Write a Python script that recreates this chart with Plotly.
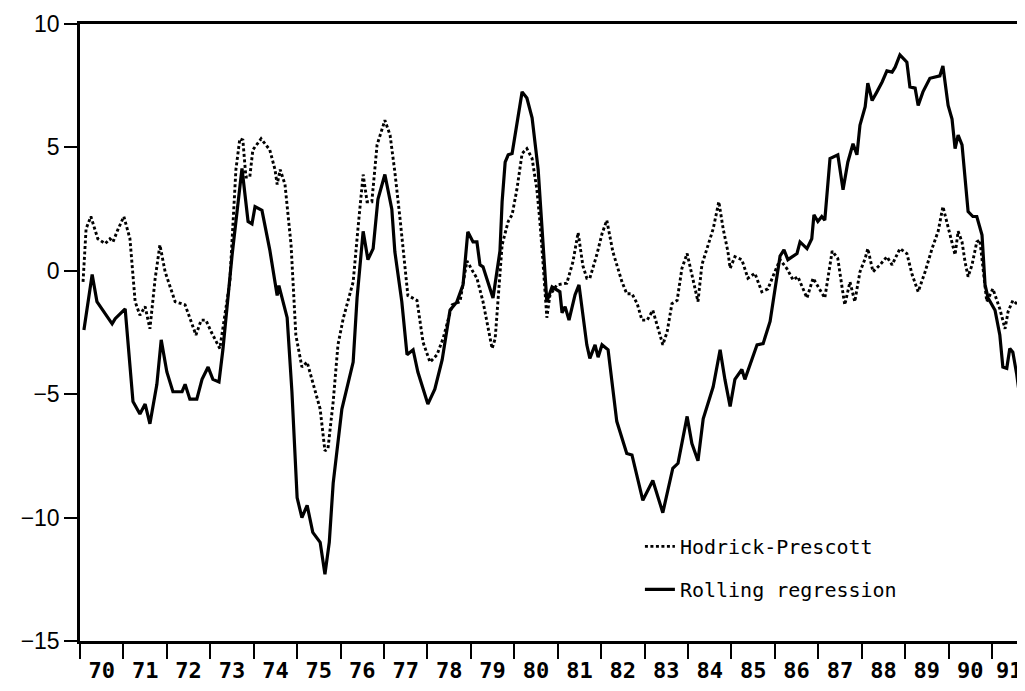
import plotly.graph_objects as go

# Rolling regression (solid)
rr_t = [1970.09,1970.28,1970.39,1970.62,1970.74,1970.81,1971.04,1971.22,1971.38,1971.50,1971.61,1971.77,1971.87,
        1972.00,1972.14,1972.35,1972.42,1972.53,1972.69,1972.81,1972.95,1973.06,1973.20,1973.29,1973.50,1973.73,
        1973.87,1973.96,1974.03,1974.19,1974.31,1974.37,1974.54,1974.58,1974.77,1974.88,1975.00,1975.11,1975.23,
        1975.36,1975.53,1975.64,1975.74,1975.83,1976.03,1976.29,1976.38,1976.52,1976.63,1976.75,1976.86,1977.02,
        1977.18,1977.25,1977.41,1977.53,1977.67,1977.78,1978.01,1978.17,1978.34,1978.52,1978.68,1978.82,1978.93,
        1979.05,1979.14,1979.21,1979.28,1979.51,1979.67,1979.72,1979.79,1979.86,1979.95,1980.06,1980.18,1980.29,
        1980.41,1980.55,1980.66,1980.75,1980.87,1981.05,1981.10,1981.17,1981.26,1981.40,1981.49,1981.67,1981.74,
        1981.86,1981.93,1982.02,1982.16,1982.36,1982.59,1982.71,1982.96,1983.19,1983.42,1983.65,1983.77,1983.98,
        1984.09,1984.23,1984.35,1984.58,1984.74,1984.85,1984.97,1985.08,1985.24,1985.31,1985.59,1985.73,1985.89,
        1986.00,1986.12,1986.21,1986.30,1986.51,1986.58,1986.74,1986.85,1986.90,1986.99,1987.08,1987.15,1987.27,
        1987.45,1987.57,1987.68,1987.80,1987.89,1987.96,1988.08,1988.14,1988.24,1988.35,1988.47,1988.58,1988.70,
        1988.77,1988.88,1989.04,1989.11,1989.23,1989.30,1989.41,1989.57,1989.80,1989.87,1989.99,1990.08,1990.15,
        1990.22,1990.31,1990.45,1990.56,1990.65,1990.77,1990.84,1990.91,1991.07,1991.18,1991.25,1991.34,1991.41,
        1991.48,1991.57,1991.69,1991.76]
rr_v = [-2.4,-0.15,-1.25,-1.86,-2.15,-1.94,-1.54,-5.3,-5.8,-5.4,-6.2,-4.6,-2.8,
        -4.1,-4.9,-4.9,-4.6,-5.2,-5.2,-4.4,-3.9,-4.4,-4.5,-3.2,0.6,4.15,
        2.0,1.9,2.6,2.45,1.45,0.85,-1.0,-0.6,-1.9,-4.9,-9.2,-10.0,-9.5,
        -10.6,-11.0,-12.3,-11.0,-8.6,-5.6,-3.7,-1.1,1.6,0.45,0.9,2.9,3.9,
        2.5,0.77,-1.25,-3.4,-3.2,-4.1,-5.4,-4.8,-3.6,-1.6,-1.25,-0.57,1.58,
        1.17,1.17,0.24,0.16,-1.1,0.8,2.8,4.4,4.7,4.75,5.9,7.25,7.0,
        6.2,4.1,1.2,-1.25,-0.65,-0.85,-1.7,-1.45,-2.0,-0.97,-0.57,-3.0,-3.55,
        -3.0,-3.5,-3.0,-3.2,-6.1,-7.4,-7.46,-9.3,-8.5,-9.8,-8.0,-7.8,-5.9,
        -7.0,-7.7,-6.0,-4.7,-3.2,-4.4,-5.5,-4.4,-4.0,-4.4,-3.0,-2.95,-2.05,
        -0.75,0.6,0.85,0.45,0.7,1.17,0.9,1.3,2.27,2.0,2.2,2.05,4.55,
        4.7,3.28,4.4,5.15,4.7,5.9,6.65,7.6,6.9,7.25,7.65,8.1,8.05,
        8.25,8.75,8.45,7.45,7.4,6.7,7.25,7.8,7.9,8.3,6.7,6.15,4.95,
        5.5,5.1,2.4,2.2,2.2,1.45,-0.57,-1.1,-1.6,-2.6,-3.9,-3.95,-3.15,
        -3.3,-4.2,-5.8,-5.7]

# Hodrick-Prescott (dotted)
hp_t = [1970.07,1970.14,1970.25,1970.41,1970.58,1970.69,1970.76,1970.87,1971.01,1971.15,1971.27,1971.38,1971.50,
        1971.61,1971.73,1971.84,1971.96,1972.19,1972.42,1972.53,1972.67,1972.79,1972.90,1973.02,1973.22,1973.45,
        1973.59,1973.68,1973.75,1973.82,1973.91,1973.98,1974.17,1974.37,1974.49,1974.54,1974.61,1974.72,1974.86,
        1974.97,1975.11,1975.23,1975.36,1975.53,1975.64,1975.71,1975.83,1975.94,1976.06,1976.17,1976.29,1976.40,
        1976.52,1976.61,1976.72,1976.84,1977.02,1977.14,1977.25,1977.37,1977.48,1977.55,1977.76,1977.90,1978.06,
        1978.22,1978.36,1978.57,1978.75,1978.91,1979.05,1979.14,1979.28,1979.49,1979.56,1979.67,1979.72,1979.86,
        1979.95,1980.06,1980.18,1980.29,1980.41,1980.52,1980.59,1980.66,1980.75,1980.82,1980.98,1981.21,1981.35,
        1981.47,1981.58,1981.67,1981.74,1981.90,1982.02,1982.13,1982.27,1982.48,1982.59,1982.71,1982.83,1982.94,
        1983.06,1983.19,1983.31,1983.42,1983.52,1983.63,1983.75,1983.86,1983.98,1984.09,1984.23,1984.32,1984.46,
        1984.58,1984.71,1984.81,1984.92,1984.97,1985.08,1985.24,1985.38,1985.54,1985.70,1985.84,1986.00,1986.12,
        1986.28,1986.42,1986.53,1986.74,1986.88,1987.04,1987.15,1987.32,1987.45,1987.55,1987.61,1987.73,1987.84,
        1987.96,1988.08,1988.14,1988.26,1988.42,1988.58,1988.70,1988.88,1989.04,1989.16,1989.30,1989.46,1989.62,
        1989.76,1989.87,1989.96,1990.03,1990.15,1990.22,1990.31,1990.38,1990.45,1990.54,1990.65,1990.72,1990.88,
        1991.02,1991.18,1991.30,1991.37,1991.48,1991.60,1991.69,1991.76]
hp_v = [-0.45,1.7,2.2,1.3,1.1,1.3,1.17,1.66,2.2,1.3,-1.25,-1.8,-1.45,
        -2.35,-0.32,1.05,-0.04,-1.25,-1.38,-1.94,-2.6,-2.0,-2.0,-2.47,-3.15,-0.45,
        4.1,5.35,5.3,3.8,3.8,4.9,5.35,4.9,4.1,3.5,4.1,3.5,1.05,
        -2.6,-3.9,-3.7,-4.5,-5.6,-7.3,-7.2,-5.3,-3.0,-1.94,-1.2,-0.45,1.7,
        3.9,2.8,2.8,5.1,6.1,5.5,4.0,2.1,0.24,-1.0,-1.2,-2.9,-3.7,
        -3.4,-2.75,-1.38,-1.25,0.4,-0.04,-0.3,-1.25,-3.15,-2.75,-0.04,1.05,2.0,
        2.27,3.3,4.75,4.95,4.55,3.3,2.0,0.36,-1.9,-1.0,-0.57,-0.5,0.36,
        1.55,0.2,-0.3,-0.3,0.65,1.5,2.05,0.77,-0.45,-0.93,-0.93,-1.33,-2.0,
        -2.0,-1.6,-2.35,-3.0,-2.47,-1.33,-1.2,0.1,0.7,-0.15,-1.25,0.24,1.05,
        1.7,2.8,1.7,0.77,0.1,0.57,0.45,-0.3,-0.1,-0.85,-0.73,-0.04,0.45,
        0.08,-0.37,-0.24,-1.1,-0.3,-0.77,-1.1,0.8,0.5,-0.7,-1.38,-0.45,-1.25,
        -0.04,0.5,0.9,-0.04,0.24,0.57,0.24,0.9,0.7,-0.15,-0.85,-0.04,0.9,
        1.6,2.6,2.0,1.45,0.65,1.6,1.17,0.36,-0.24,0.24,1.17,1.25,-1.25,
        -0.73,-1.54,-2.35,-1.66,-1.2,-1.38,-1.0,-0.04]

year_labels = ["70","71","72","73","74","75","76","77","78","79","80",
               "81","82","83","84","85","86","87","88","89","90","91"]
# labels sit mid-year; the last one is nudged left so it stays inside the page
year_label_pos = [1970.5, 1971.5, 1972.5, 1973.5, 1974.5, 1975.5, 1976.5, 1977.5, 1978.5, 1979.5, 1980.5,
                  1981.5, 1982.5, 1983.5, 1984.5, 1985.5, 1986.5, 1987.5, 1988.5, 1989.5, 1990.5, 1991.4]
y_ticks = [10, 5, 0, -5, -10, -15]

fig = go.Figure()
fig.add_trace(go.Scatter(x=hp_t, y=hp_v, mode="lines", name="Hodrick-Prescott",
                         line=dict(color="black", width=2.9, dash="3px,2.5px"),
                         legendgroup="a"))
fig.add_trace(go.Scatter(x=rr_t, y=rr_v, mode="lines", name="Rolling regression",
                         line=dict(color="black", width=3.2),
                         legendgroup="b"))

# page body adds an 8px offset; size the figure so the plot area lands where the reference has it
fig.update_layout(
    width=1017, height=683,
    margin=dict(l=72, r=0, t=16, b=50),
    paper_bgcolor="white", plot_bgcolor="white",
    showlegend=True,
    legend=dict(x=0.5925, y=0.185, xanchor="left", yanchor="top",
                font=dict(family="DejaVu Sans Mono", size=20, color="black"),
                bgcolor="rgba(0,0,0,0)", tracegroupgap=14, traceorder="grouped"),
    xaxis=dict(range=[1970, 1991.76], tickmode="array", tickvals=year_label_pos, ticktext=year_labels,
               ticks="", showgrid=False, zeroline=False, automargin=False,
               ticklabeloverflow="allow",
               showline=True, linecolor="black", linewidth=2.5, mirror=True,
               tickfont=dict(family="DejaVu Sans Mono", size=22, color="black", weight="bold"),
               ticklabelstandoff=8,
               minor=dict(tickmode="linear", tick0=1970, dtick=1, ticks="outside",
                          ticklen=15, tickwidth=2, tickcolor="black", showgrid=False)),
    yaxis=dict(range=[-15, 10], tickmode="array", tickvals=y_ticks,
               ticks="outside", ticklen=13, tickwidth=2, tickcolor="black",
               showgrid=False, zeroline=False, automargin=False,
               showline=True, linecolor="black", linewidth=2.5,
               tickfont=dict(family="Liberation Sans", size=23, color="black")),
)

fig.write_html("out.html")
